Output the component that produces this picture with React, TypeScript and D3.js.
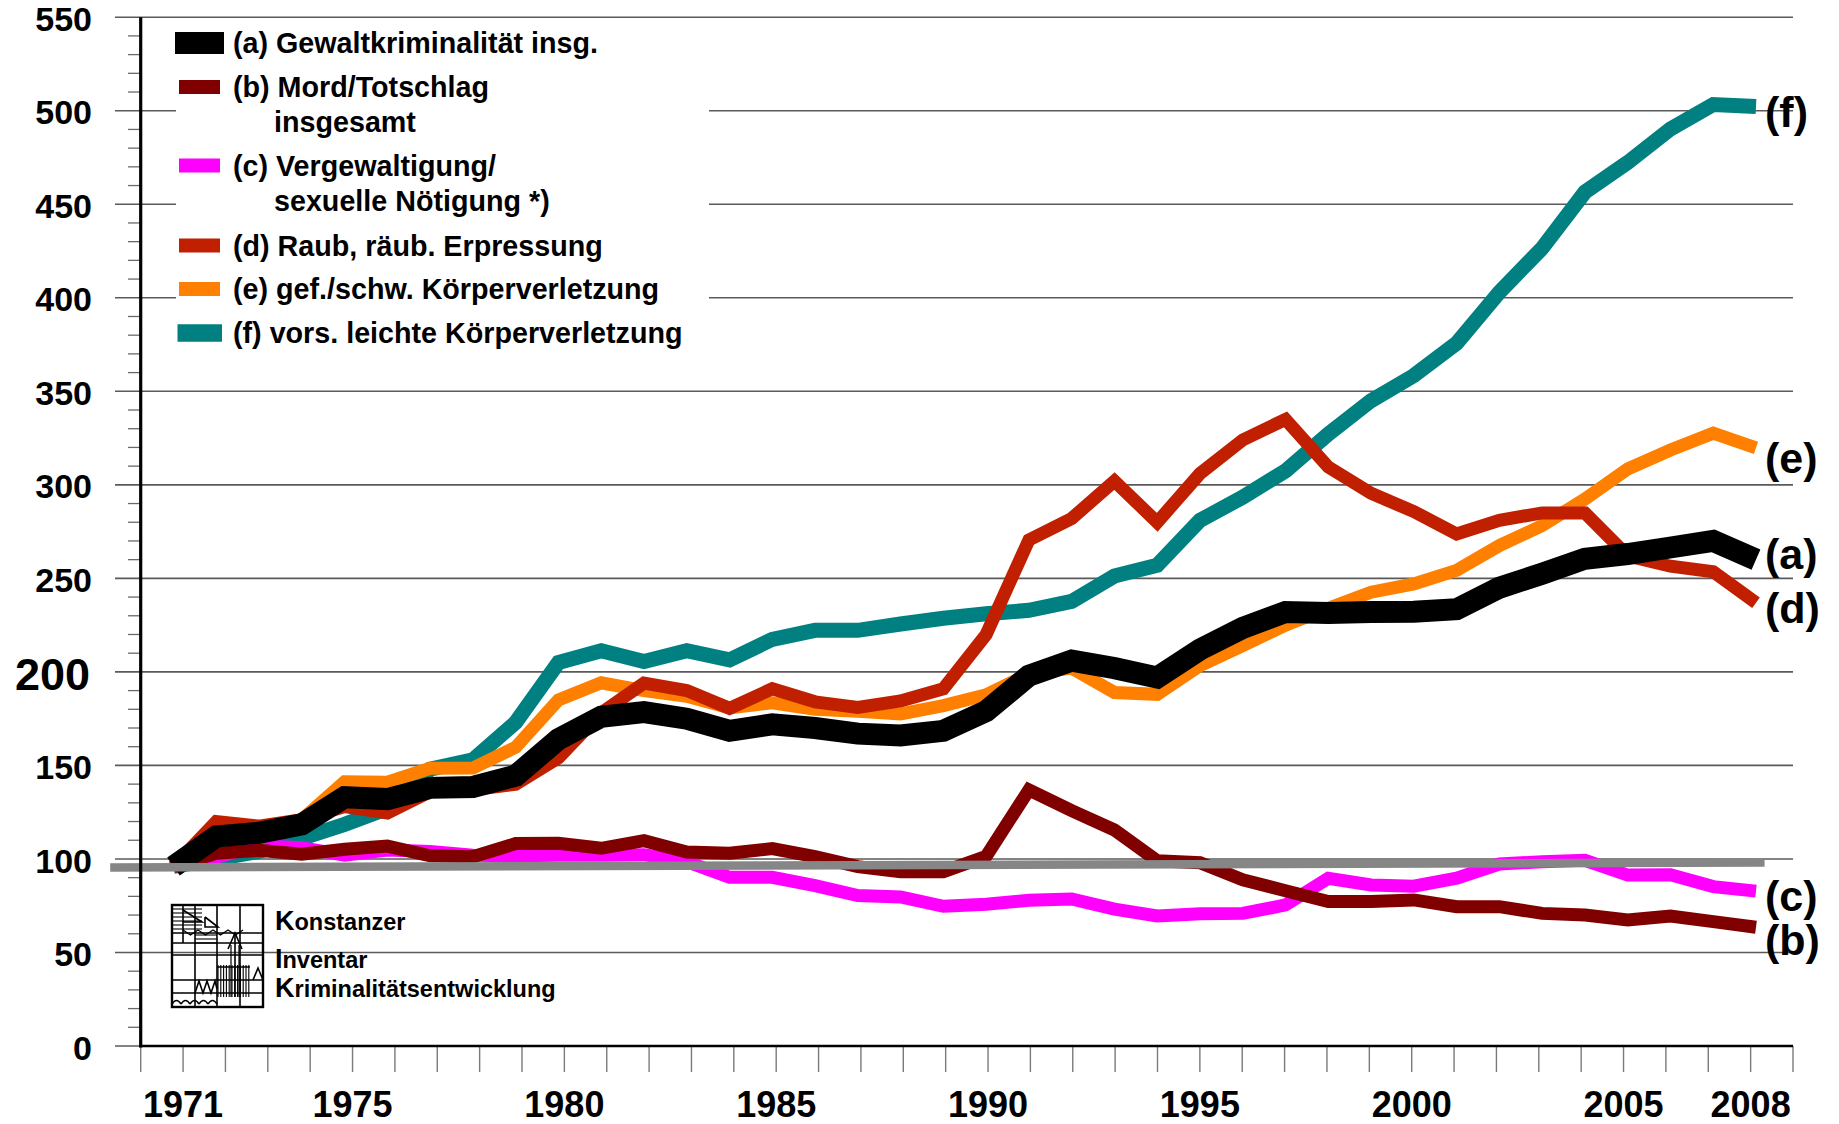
import React from 'react';
import * as d3 from 'd3';

// ---------------- data ----------------
const YEARS = d3.range(1971, 2009);

const gewaltInsg = [96, 112, 114, 118.5, 133, 132, 138, 138.5, 144.5, 164,
  176, 178.5, 175, 168.5, 172, 170, 167, 166, 168.5, 179,
  198, 206, 202, 197, 212, 223.5, 232, 231.5, 232, 232.2,
  233.5, 245, 252.5, 260.5, 263, 266.5, 270, 260];

const mordTotschlag = [96, 103, 104.6, 102.5, 105.2, 106.9, 101.7, 101.2, 108.2, 108.4,
  105.7, 109.8, 103.7, 103, 105.5, 101.2, 95.9, 93.2, 93.2, 101.4,
  136.9, 125.8, 115.5, 99, 98, 88.8, 83, 77.2, 77.2, 78.1,
  74.5, 74.5, 70.9, 70, 67.4, 69.5, 66.5, 63.5];

const vergewaltigung = [96, 101, 107, 106, 102, 104.8, 104, 102, 101.7, 102,
  102, 102.3, 98.5, 90.2, 90.2, 85.7, 80.4, 79.7, 74.7, 75.8,
  77.9, 78.6, 73.2, 69.5, 70.7, 70.9, 75.4, 89.7, 86.1, 85.4,
  89.7, 97.3, 98.5, 99.3, 91.4, 91.5, 85.2, 82.8];

const raub = [96, 120, 117.5, 121, 128, 124.5, 136, 137, 140, 154,
  178, 194, 190, 180.5, 191, 184, 181, 184.5, 191, 220,
  270.5, 282, 302, 280, 306, 324, 335, 309.5, 295.5, 285.7,
  273.7, 281, 285, 285, 262, 256.5, 253.5, 237];

const gefKV = [96, 110, 114, 121, 141.3, 141, 148.5, 148.6, 159.7, 185,
  194.2, 190, 187, 180.7, 183.5, 180, 179, 177.5, 182, 187.7,
  199, 202, 189, 188, 203.3, 214, 225, 234, 242.6, 247,
  254.3, 267.5, 278.2, 292.4, 308.5, 318.6, 327.6, 319.8];

const leichteKV = [96, 100, 104, 111, 118.5, 127, 148, 153, 173, 205,
  211.3, 205.5, 211.3, 206.4, 217.4, 222.2, 222.2, 225.6, 228.7, 231.1,
  232.9, 237.7, 251.3, 257, 281, 293.4, 307.5, 327.2, 345, 358.4,
  375.7, 403, 426.5, 456.5, 472.3, 490.3, 503.3, 502.2];

const Y_TICKS = d3.range(0, 551, 50);
const Y_MINOR = d3.range(0, 551, 10);
const X_LABELS = [1971, 1975, 1980, 1985, 1990, 1995, 2000, 2005, 2008];
const X_TICKS = d3.range(1970, 2010);

// reference line at index 100 (drawn slightly tilted in the original)
const REF_LINE = [{ year: 1969.52, v: 95.4 }, { year: 2008.2, v: 98.1 }];

// series in drawing order (bottom -> top)
const SERIES = [
  { key: 'f', values: leichteKV, color: '#008080', width: 15 },
  { key: 'e', values: gefKV, color: '#FF8000', width: 13 },
  { key: 'd', values: raub, color: '#C02000', width: 13 },
  { key: 'c', values: vergewaltigung, color: '#FF00FF', width: 13 },
  { key: 'b', values: mordTotschlag, color: '#800000', width: 13 },
  { key: 'a', values: gewaltInsg, color: '#000000', width: 22 },
];

const END_LABELS = [
  { text: '(f)', v: 497.5 },
  { text: '(e)', v: 312.3 },
  { text: '(a)', v: 261 },
  { text: '(d)', v: 232 },
  { text: '(c)', v: 78.4 },
  { text: '(b)', v: 54.5 },
];

const LEGEND = [
  { lines: ['(a) Gewaltkriminalität insg.'], color: '#000000', big: true },
  { lines: ['(b) Mord/Totschlag', 'insgesamt'], color: '#800000' },
  { lines: ['(c) Vergewaltigung/', 'sexuelle Nötigung *)'], color: '#FF00FF' },
  { lines: ['(d) Raub, räub. Erpressung'], color: '#C02000' },
  { lines: ['(e) gef./schw. Körperverletzung'], color: '#FF8000' },
  { lines: ['(f) vors. leichte Körperverletzung'], color: '#008080', mid: true },
];
const LEGEND_BASELINES = [[53], [97, 132], [175.5, 211], [255.5], [299], [343]];

const LOGO_TEXT = [
  { cap: 'K', rest: 'onstanzer' },
  { cap: 'I', rest: 'nventar' },
  { cap: 'K', rest: 'riminalitätsentwicklung' },
];

// ---------------- layout ----------------
const W = 1839;
const H = 1124;
const FONT = '"Liberation Sans", Arial, Helvetica, sans-serif';

const yScale = d3.scaleLinear().domain([0, 550]).range([1046, 17.2]);
const xData = d3.scaleLinear().domain([1971, 2008]).range([173.5, 1756]);
const xAxis = d3.scaleLinear().domain([1970, 2009]).range([140.7, 1793]);

const AXIS_X = xAxis(1970);
const AXIS_Y = yScale(0);
const RIGHT = xAxis(2009);

function Logo() {
  const x0 = 172, y0 = 905, w = 91, h = 102;
  const P = (x: number, y: number) => `${x0 + x},${y0 + y}`;
  return (
    <g stroke="#000" fill="none" strokeWidth={1.6} strokeLinejoin="miter">
      <rect x={x0} y={y0} width={w} height={h} strokeWidth={2.4} />
      {[23, 45, 68].map((v) => (
        <line key={'v' + v} x1={x0 + v} x2={x0 + v} y1={y0} y2={y0 + h} />
      ))}
      <line x1={x0 + 11} x2={x0 + 11} y1={y0} y2={y0 + 38} />
      {[28, 38, 50, 75, 88].map((v) => (
        <line key={'h' + v} x1={x0} x2={x0 + w} y1={y0 + v} y2={y0 + v} />
      ))}
      {d3.range(0, 6).map((i) => (
        <line key={'s' + i} x1={x0 + 1} x2={x0 + 30} y1={y0 + 4 + i * 4} y2={y0 + 4 + i * 4} strokeWidth={1.1} />
      ))}
      {d3.range(0, 3).map((i) => (
        <line key={'s2' + i} x1={x0 + 23} x2={x0 + 45} y1={y0 + 30 + i * 4} y2={y0 + 30 + i * 4} strokeWidth={1.1} />
      ))}
      <polyline points={`${P(11, 5)} ${P(30, 17)} ${P(11, 17)}`} />
      <polyline points={`${P(33, 12)} ${P(46, 22)} ${P(33, 22)} ${P(33, 12)}`} />
      <polyline
        points={d3
          .range(0, 9)
          .map((i) => P(11 + i * 7.5, i % 2 === 0 ? 25 : 30))
          .join(' ')}
        strokeWidth={1.3}
      />
      <polyline points={`${P(56, 44)} ${P(63, 28)} ${P(70, 44)}`} />
      <line x1={x0 + 63} x2={x0 + 63} y1={y0 + 28} y2={y0 + 92} />
      <line x1={x0 + 59} x2={x0 + 59} y1={y0 + 40} y2={y0 + 92} strokeWidth={1.2} />
      <line x1={x0 + 67} x2={x0 + 67} y1={y0 + 40} y2={y0 + 92} strokeWidth={1.2} />
      {d3.range(0, 12).map((i) => (
        <line key={'t' + i} x1={x0 + 46 + i * 2.8} x2={x0 + 46 + i * 2.8} y1={y0 + 60} y2={y0 + 92} strokeWidth={1.1} />
      ))}
      <line x1={x0 + 45} x2={x0 + 78} y1={y0 + 62} y2={y0 + 62} />
      <polyline points={`${P(23, 88)} ${P(27, 76)} ${P(31, 88)} ${P(35, 76)} ${P(39, 88)} ${P(43, 76)} ${P(45, 84)}`} />
      <polyline points={`${P(81, 75)} ${P(86, 63)} ${P(91, 75)}`} />
      {d3.range(0, 5).map((i) => (
        <path key={'a' + i} d={`M${x0 + i * 9},${y0 + 99} q4.5,-7 9,0`} strokeWidth={1.5} />
      ))}
    </g>
  );
}

export default function App() {
  const line = d3
    .line<number>()
    .x((_, i) => xData(YEARS[i]))
    .y((d) => yScale(d))
    .curve(d3.curveLinear);

  const refPath = d3
    .line<{ year: number; v: number }>()
    .x((d) => xData(d.year))
    .y((d) => yScale(d.v))(REF_LINE) as string;

  return (
    <svg
      width={W}
      height={H}
      viewBox={`0 0 ${W} ${H}`}
      style={{ position: 'absolute', left: 0, top: 0, background: '#fff' }}
      fontFamily={FONT}
    >
      <rect x={0} y={0} width={W} height={H} fill="#fff" />

      {Y_TICKS.map((t) => (
        <line key={'g' + t} x1={115} x2={RIGHT} y1={yScale(t)} y2={yScale(t)} stroke="#5a5a5a" strokeWidth={1.6} />
      ))}
      {Y_MINOR.filter((t) => t % 50 !== 0).map((t) => (
        <line key={'m' + t} x1={128} x2={AXIS_X} y1={yScale(t)} y2={yScale(t)} stroke="#6a6a6a" strokeWidth={1.3} />
      ))}
      {X_TICKS.map((t) => (
        <line key={'xt' + t} x1={xAxis(t)} x2={xAxis(t)} y1={AXIS_Y} y2={AXIS_Y + 26} stroke="#7a7a7a" strokeWidth={1.4} />
      ))}

      <rect x={176} y={22} width={533} height={345} fill="#fff" />
      {LEGEND.map((item, i) => {
        const bl = LEGEND_BASELINES[i];
        const cy = bl[0] - 10;
        const sw = item.big ? { x: 175, w: 49, h: 22 } : item.mid ? { x: 177.5, w: 44.5, h: 17.5 } : { x: 179, w: 41, h: 14 };
        return (
          <g key={'lg' + i}>
            <rect x={sw.x} y={cy - sw.h / 2} width={sw.w} height={sw.h} fill={item.color} />
            {item.lines.map((ln, j) => (
              <text key={j} x={j === 0 ? 233 : 274} y={bl[j]} fontSize={28.7} fontWeight="bold" fill="#000">
                {ln}
              </text>
            ))}
          </g>
        );
      })}

      <Logo />
      {LOGO_TEXT.map((l, i) => (
        <text key={'lt' + i} x={275} y={[930, 968, 997][i]} fontWeight="bold" fill="#000">
          <tspan fontSize={27}>{l.cap}</tspan>
          <tspan fontSize={23.5}>{l.rest}</tspan>
        </text>
      ))}

      {SERIES.map((s) => (
        <path
          key={s.key}
          d={line(s.values) as string}
          fill="none"
          stroke={s.color}
          strokeWidth={s.width}
          strokeLinejoin="miter"
          strokeMiterlimit={4}
          strokeLinecap="butt"
        />
      ))}

      <path d={refPath} stroke="#868686" strokeWidth={8.5} fill="none" />

      <line x1={AXIS_X} x2={AXIS_X} y1={yScale(550)} y2={AXIS_Y + 1.5} stroke="#000" strokeWidth={3.2} />
      <line x1={AXIS_X - 1.5} x2={RIGHT} y1={AXIS_Y} y2={AXIS_Y} stroke="#000" strokeWidth={2.6} />

      {Y_TICKS.map((t) => {
        const fs = t === 200 ? 45 : 34;
        return (
          <text
            key={'yl' + t}
            x={t === 200 ? 90 : 92}
            y={yScale(t) + fs * 0.4}
            textAnchor="end"
            fontSize={fs}
            fontWeight="bold"
            fill="#000"
          >
            {t}
          </text>
        );
      })}

      {X_LABELS.map((yr) => (
        <text key={'xl' + yr} x={xAxis(yr)} y={1117} textAnchor="middle" fontSize={36} fontWeight="bold" fill="#000">
          {yr}
        </text>
      ))}

      {END_LABELS.map((l) => (
        <text key={l.text} x={1765} y={yScale(l.v) + 43 * 0.26} fontSize={43} fontWeight="bold" fill="#000">
          {l.text}
        </text>
      ))}
    </svg>
  );
}
